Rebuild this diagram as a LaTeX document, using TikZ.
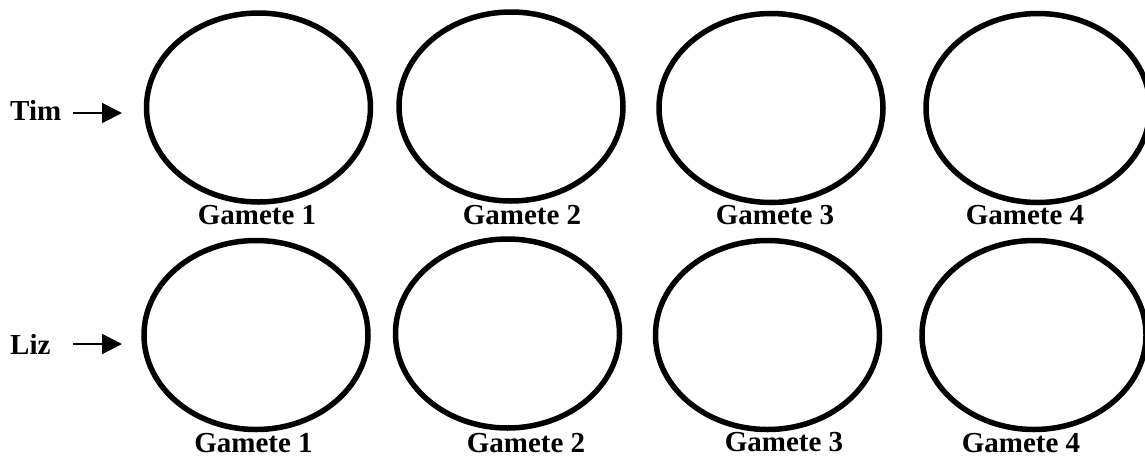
\documentclass[tikz,border=0pt]{standalone}
\usepackage{fontspec}
\setmainfont{Liberation Serif}
\usetikzlibrary{shapes.geometric,arrows.meta}
\tikzset{
  gam/.style={draw, line width=5.5pt, ellipse, inner sep=0pt, minimum width=224pt, minimum height=189pt},
  lab/.style={anchor=base, inner sep=0pt, font=\fontsize{29}{33}\selectfont\bfseries},
  who/.style={anchor=base west, inner sep=0pt, font=\fontsize{29}{33}\selectfont\bfseries},
  arr/.style={line width=2pt, -{Triangle[length=20pt,width=20pt]}}
}
\begin{document}
\begin{tikzpicture}[x=1pt,y=-1pt]
\useasboundingbox (0,0) rectangle (1145,459);
% row 1
\node[gam] (t1) at (258.5,107.5) {};
\node[gam] (t2) at (511,106.5) {};
\node[gam] (t3) at (771,108) {};
\node[gam] (t4) at (1038,108) {};
\node[lab] (lt1) at (257,224) {Gamete 1};
\node[lab] (lt2) at (522,224) {Gamete 2};
\node[lab] (lt3) at (775,224) {Gamete 3};
\node[lab] (lt4) at (1025,224) {Gamete 4};
% row 2
\node[gam] (l1) at (256,335) {};
\node[gam] (l2) at (507.5,333.5) {};
\node[gam] (l3) at (767.5,335) {};
\node[gam] (l4) at (1034,335) {};
\node[lab] (ll1) at (253.5,452) {Gamete 1};
\node[lab] (ll2) at (526,452) {Gamete 2};
\node[lab] (ll3) at (784,451) {Gamete 3};
\node[lab] (ll4) at (1021,452) {Gamete 4};
% names and arrows
\node[who] (tim) at (10,120) {Tim};
\node[who] (liz) at (10,354) {Liz};
\coordinate (tA) at (73,113);
\coordinate (tB) at (122,113);
\coordinate (lA) at (73,344);
\coordinate (lB) at (122,344);
\draw[arr] (tA) -- (tB);
\draw[arr] (lA) -- (lB);
\end{tikzpicture}
\end{document}
